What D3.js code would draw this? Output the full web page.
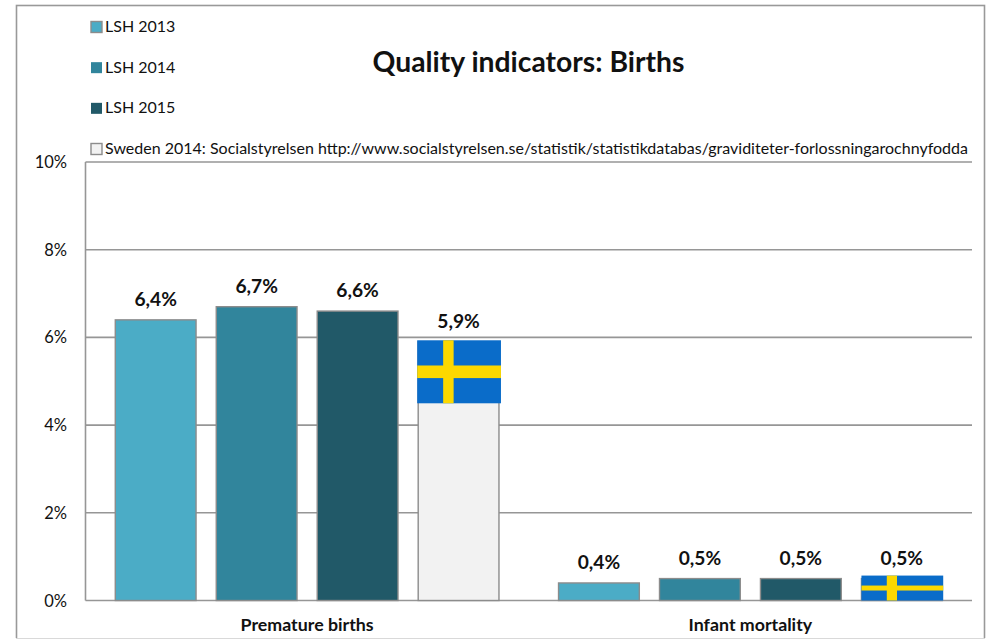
<!DOCTYPE html>
<html><head><meta charset="utf-8">
<script src="https://cdn.jsdelivr.net/npm/d3@7/dist/d3.min.js"></script>
<style>html,body{margin:0;padding:0;background:#fff}svg{display:block}text{font-family:Lato,"Open Sans",sans-serif;fill:#111}</style>
</head><body><svg id="c" width="994" height="640"></svg>
<script>
const title = "Quality indicators: Births";
const categories = ["Premature births", "Infant mortality"];
const seriesNames = ["LSH 2013", "LSH 2014", "LSH 2015", "Sweden 2014: Socialstyrelsen http://www.socialstyrelsen.se/statistik/statistikdatabas/graviditeter-forlossningarochnyfodda"];
const seriesColors = ["#4bacc6", "#31859c", "#215968", "#f2f2f2"];
const premature = [6.4, 6.7, 6.6, 5.9];
const infant = [0.4, 0.5, 0.5, 0.5];
const yTicks = [0, 2, 4, 6, 8, 10];
const values = [premature, infant];

const svg = d3.select("#c");
const L = 85.5, R = 972, T = 162, B = 600.5;
const x0 = d3.scaleBand().domain(categories).range([L, R]);
const x1 = d3.scaleBand().domain(d3.range(seriesNames.length)).range([0, x0.bandwidth()]).paddingInner(0.2).paddingOuter(0.295);
const y = d3.scaleLinear().domain([0, 10]).range([B, T]);
const grey = "#8c8c8c";

svg.append("rect").attr("x", 16.5).attr("y", 5.5).attr("width", 968).attr("height", 640)
  .attr("fill", "#fff").attr("stroke", "#999").attr("stroke-width", 1.6);
svg.append("rect").attr("x", 0).attr("y", 638).attr("width", 994).attr("height", 2).attr("fill", "#fff");
svg.append("line").attr("x1", 16).attr("x2", 985).attr("y1", 638.5).attr("y2", 638.5).attr("stroke", "#d9d9d9");

svg.append("g").selectAll("line").data(yTicks).join("line")
  .attr("x1", L).attr("x2", R).attr("y1", d => y(d)).attr("y2", d => y(d))
  .attr("stroke", "#969696").attr("stroke-width", 1.6);
svg.append("line").attr("x1", L).attr("x2", L).attr("y1", T).attr("y2", B).attr("stroke", "#969696").attr("stroke-width", 1.6);
svg.append("g").selectAll("text").data(yTicks).join("text")
  .attr("x", 67).attr("y", d => y(d) + 6).attr("text-anchor", "end").attr("font-size", 16.5)
  .text(d => d + "%");

const groups = svg.append("g").selectAll("g").data(categories).join("g")
  .attr("transform", c => `translate(${x0(c)},0)`);
groups.each(function (c, ci) {
  const g = d3.select(this);
  const rows = values[ci].map((v, i) => ({ v, i }));
  g.selectAll("rect.bar").data(rows).join("rect").attr("class", "bar")
    .attr("x", d => x1(d.i)).attr("width", x1.bandwidth())
    .attr("y", d => y(d.v)).attr("height", d => B - y(d.v))
    .attr("fill", d => seriesColors[d.i]).attr("stroke", grey).attr("stroke-width", 1.4);
  g.selectAll("text.val").data(rows).join("text").attr("class", "val")
    .attr("x", d => x1(d.i) + x1.bandwidth() / 2)
    .attr("y", d => y(d.v) - 14).attr("text-anchor", "middle")
    .attr("font-size", 19.2).attr("font-weight", 700)
    .text(d => d.v.toFixed(1).replace(".", ",") + "%");
  // Swedish flag overlay on the national bar
  const fx = x1(3) - (ci === 0 ? 1 : 0), fw = x1.bandwidth() + (ci === 0 ? 3 : 1);
  const ftop = y(values[ci][3]) - (ci === 0 ? 1.5 : 3);
  const fh = ci === 0 ? 63 : B - ftop;
  const f = g.append("g").attr("transform", `translate(${fx},${ftop})`);
  f.append("rect").attr("width", fw).attr("height", fh).attr("fill", "#0a6cc9");
  f.append("rect").attr("x", fw * 0.31).attr("width", fw * 0.125).attr("height", fh).attr("fill", "#fcd800");
  f.append("rect").attr("y", fh * 0.40).attr("width", fw).attr("height", fh * 0.2).attr("fill", "#fcd800");
});

svg.append("g").selectAll("text").data(categories).join("text")
  .attr("x", c => x0(c) + x0.bandwidth() / 2).attr("y", 631).attr("text-anchor", "middle")
  .attr("font-size", 17.8).attr("font-weight", 700).text(c => c);

const legendY = d3.scalePoint().domain(d3.range(seriesNames.length)).range([27, 149]);
const lg = svg.append("g").selectAll("g").data(seriesNames).join("g")
  .attr("transform", (d, i) => `translate(0,${legendY(i)})`);
lg.append("rect").attr("x", 91).attr("y", -5.5).attr("width", 11).attr("height", 11)
  .attr("fill", (d, i) => seriesColors[i]).attr("stroke", (d, i) => (i === 0 || i === 3) ? grey : "none").attr("stroke-width", 1.4);
lg.append("text").attr("x", 105).attr("y", 5).attr("font-size", 16).text(d => d);

svg.append("text").attr("x", 528.5).attr("y", 72).attr("text-anchor", "middle")
  .attr("font-size", 28.3).attr("font-weight", 700).attr("fill", "#000").text(title);
</script></body></html>
